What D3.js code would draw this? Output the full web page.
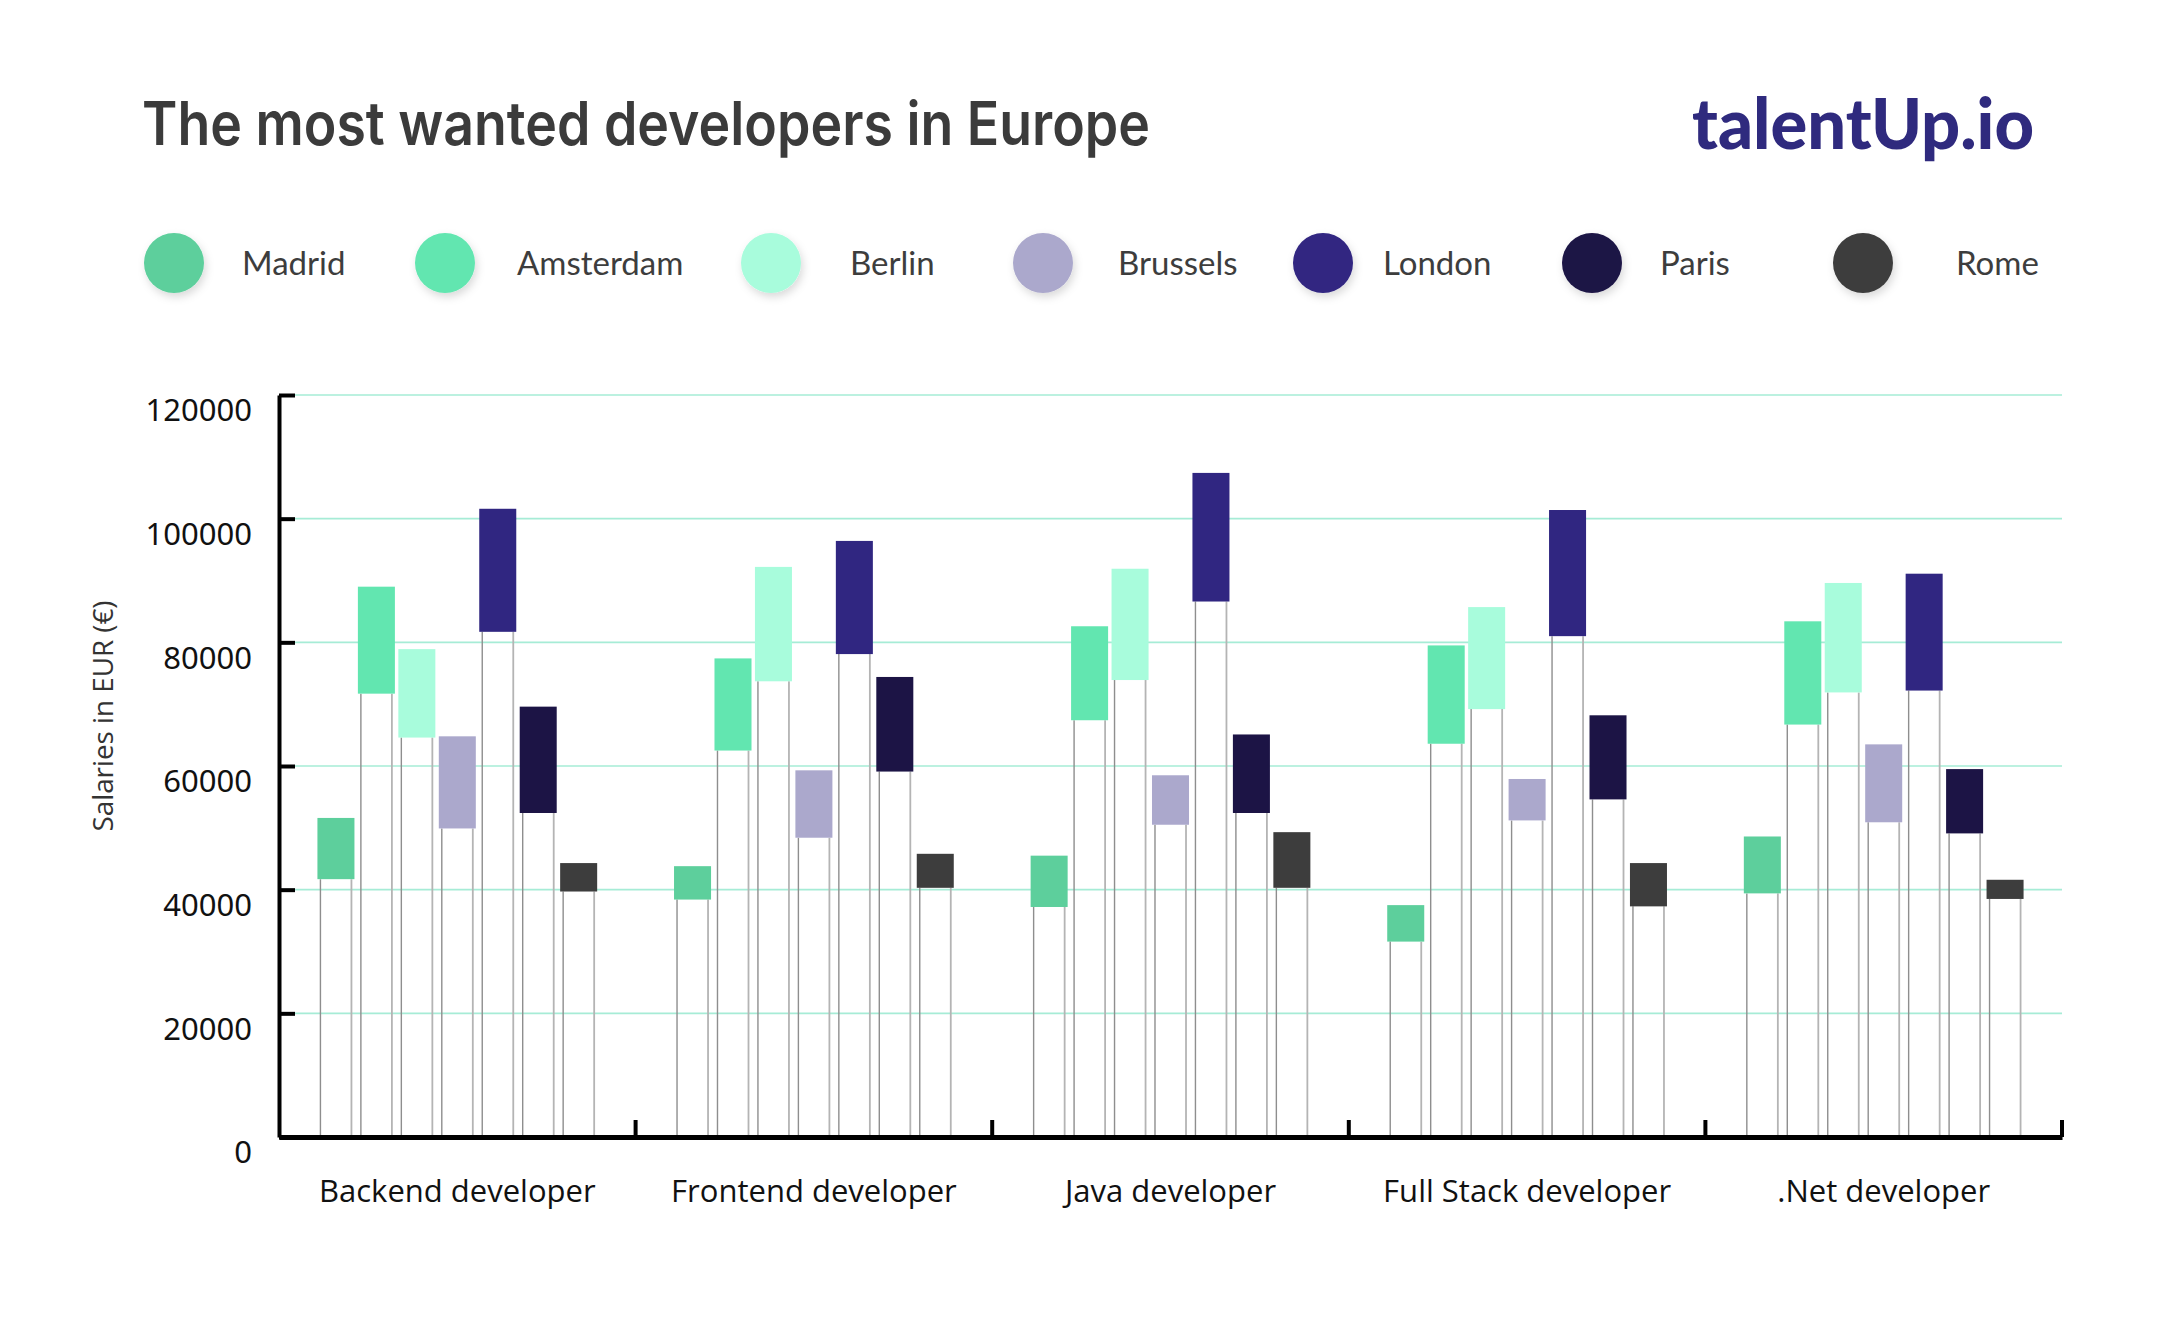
<!DOCTYPE html>
<html>
<head>
<meta charset="utf-8">
<script src="https://cdn.jsdelivr.net/npm/d3@7"></script>
<style>
  html, body { margin: 0; padding: 0; background: #ffffff; }
  svg { display: block; }
</style>
</head>
<body>
<svg id="chart" width="2167" height="1333"></svg>
<script>
// ---------------- DATA ----------------
const categories = ["Backend developer", "Frontend developer", "Java developer", "Full Stack developer", ".Net developer"];
const cities = ["Madrid", "Amsterdam", "Berlin", "Brussels", "London", "Paris", "Rome"];
const yTicks = [0, 20000, 40000, 60000, 80000, 100000, 120000];

// salary ranges (low / high) per city, in category order
const madridLow     = [41700, 38400, 37200, 31600, 39400];
const madridHigh    = [51600, 43800, 45500, 37500, 48600];
const amsterdamLow  = [71700, 62500, 67400, 63600, 66700];
const amsterdamHigh = [89000, 77400, 82600, 79500, 83400];
const berlinLow     = [64600, 73700, 73900, 69200, 71900];
const berlinHigh    = [78900, 92200, 91900, 85700, 89600];
const brusselsLow   = [49900, 48400, 50500, 51200, 50900];
const brusselsHigh  = [64800, 59300, 58500, 57900, 63500];
const londonLow     = [81700, 78100, 86600, 81000, 72200];
const londonHigh    = [101600, 96400, 107400, 101400, 91100];
const parisLow      = [52400, 59100, 52400, 54600, 49100];
const parisHigh     = [69600, 74400, 65100, 68200, 59500];
const romeLow       = [39700, 40300, 40300, 37300, 38500];
const romeHigh      = [44300, 45800, 49300, 44300, 41600];

const lows  = [madridLow, amsterdamLow, berlinLow, brusselsLow, londonLow, parisLow, romeLow];
const highs = [madridHigh, amsterdamHigh, berlinHigh, brusselsHigh, londonHigh, parisHigh, romeHigh];

// ---------------- STYLE / LAYOUT ----------------
const cityColors = ["#5dcf9c", "#62e6b0", "#a8fcdc", "#aba8cc", "#302681", "#1c1445", "#3d3d3d"];
const legendCircleX = [174, 445, 771, 1043, 1323, 1592, 1863];
const legendLabelX  = [242, 517, 850, 1118, 1383, 1660, 1956];

const plot = { left: 279, right: 2062, top: 395, bottom: 1137 };

const svg = d3.select("#chart");

const defs = svg.append("defs");
const f = defs.append("filter").attr("id", "shadow").attr("x", "-50%").attr("y", "-50%").attr("width", "200%").attr("height", "200%");
f.append("feDropShadow").attr("dx", 2).attr("dy", 4).attr("stdDeviation", 4).attr("flood-color", "#000").attr("flood-opacity", 0.15);

// Title
svg.append("text")
  .attr("x", 142).attr("y", 145)
  .attr("font-family", "Inter, Lato, 'Noto Sans', sans-serif")
  .attr("font-weight", 600)
  .attr("font-size", 60)
  .attr("fill", "#3b3b3b")
  .attr("textLength", 1008)
  .attr("lengthAdjust", "spacingAndGlyphs")
  .text("The most wanted developers in Europe");

// Logo
svg.append("text")
  .attr("x", 1692).attr("y", 149)
  .attr("font-family", "Lato, Inter, sans-serif")
  .attr("font-weight", 900)
  .attr("font-size", 70)
  .attr("fill", "#2f2a7e")
  .attr("textLength", 342)
  .attr("lengthAdjust", "spacingAndGlyphs")
  .text("talentUp.io");

// Legend
const legend = svg.append("g").attr("class", "legend");
cities.forEach((c, i) => {
  legend.append("circle")
    .attr("cx", legendCircleX[i]).attr("cy", 263).attr("r", 30)
    .attr("fill", cityColors[i])
    .attr("filter", "url(#shadow)");
  legend.append("text")
    .attr("x", legendLabelX[i]).attr("y", 275)
    .attr("font-family", "Lato, 'Noto Sans', sans-serif")
    .attr("font-size", 33)
    .attr("fill", "#3d3d3d")
    .text(c);
});

// Scales
const y = d3.scaleLinear().domain([0, 120000]).range([plot.bottom, plot.top]);
const x0 = d3.scaleBand().domain(categories).range([plot.left, plot.right]).paddingInner(0).paddingOuter(0);
const x1 = d3.scaleBand().domain(cities).range([0, x0.bandwidth()]).paddingInner(0.085).paddingOuter(0.95);

// Gridlines
svg.append("g").selectAll("line")
  .data(yTicks.filter(d => d > 0))
  .join("line")
  .attr("x1", plot.left + 2).attr("x2", plot.right)
  .attr("y1", d => y(d)).attr("y2", d => y(d))
  .attr("stroke", "#a6ecd6").attr("stroke-width", 1.6);

// Bars
const groups = svg.append("g").selectAll("g")
  .data(categories)
  .join("g")
  .attr("transform", d => `translate(${x0(d)},0)`);

groups.each(function(cat, ci) {
  const g = d3.select(this);
  const rows = cities.map((c, k) => ({ city: c, k, low: lows[k][ci], high: highs[k][ci] }));
  // stems
  g.selectAll("line.l").data(rows).join("line")
    .attr("class", "l")
    .attr("x1", d => x1(d.city) + 3).attr("x2", d => x1(d.city) + 3)
    .attr("y1", d => y(d.low)).attr("y2", y(0))
    .attr("stroke", "#8e8e8e").attr("stroke-width", 1.4);
  g.selectAll("line.r").data(rows).join("line")
    .attr("class", "r")
    .attr("x1", d => x1(d.city) + x1.bandwidth() - 3).attr("x2", d => x1(d.city) + x1.bandwidth() - 3)
    .attr("y1", d => y(d.low)).attr("y2", y(0))
    .attr("stroke", "#b4b4b4").attr("stroke-width", 1.8);
  g.selectAll("rect").data(rows).join("rect")
    .attr("x", d => x1(d.city))
    .attr("width", x1.bandwidth())
    .attr("y", d => y(d.high))
    .attr("height", d => y(d.low) - y(d.high))
    .attr("fill", d => cityColors[d.k]);
});

// Y axis
const yAxis = svg.append("g")
  .attr("transform", `translate(${plot.left},0)`)
  .call(d3.axisLeft(y).tickValues(yTicks).tickFormat(d3.format("d")).tickSizeInner(-16).tickSizeOuter(0).tickPadding(27));
yAxis.select(".domain").attr("stroke", "#000").attr("stroke-width", 4);
yAxis.selectAll(".tick line").attr("stroke", "#000").attr("stroke-width", 4);
yAxis.selectAll(".tick text")
  .attr("y", 16)
  .attr("font-family", "'Noto Sans', 'Open Sans', sans-serif")
  .attr("font-size", 31)
  .attr("fill", "#111");

// Y axis title
svg.append("text")
  .attr("transform", "translate(113,716) rotate(-90)")
  .attr("text-anchor", "middle")
  .attr("font-family", "'Open Sans', sans-serif")
  .attr("font-weight", 400)
  .attr("font-size", 28)
  .attr("fill", "#333")
  .attr("textLength", 231)
  .attr("lengthAdjust", "spacingAndGlyphs")
  .text("Salaries in EUR (€)");

// X axis
const xAxis = svg.append("g")
  .attr("transform", `translate(0,${plot.bottom})`)
  .call(d3.axisBottom(x0).tickSize(0).tickSizeOuter(0).tickPadding(43));
xAxis.select(".domain").attr("stroke", "#000").attr("stroke-width", 5);
xAxis.selectAll(".tick text")
  .attr("font-family", "'Open Sans', sans-serif")
  .attr("font-size", 31)
  .attr("fill", "#111");

// category boundary ticks
svg.append("g").selectAll("line")
  .data(categories)
  .join("line")
  .attr("x1", d => x0(d) + x0.bandwidth()).attr("x2", d => x0(d) + x0.bandwidth())
  .attr("y1", plot.bottom).attr("y2", plot.bottom - 17)
  .attr("stroke", "#000").attr("stroke-width", 4);
</script>
</body>
</html>
